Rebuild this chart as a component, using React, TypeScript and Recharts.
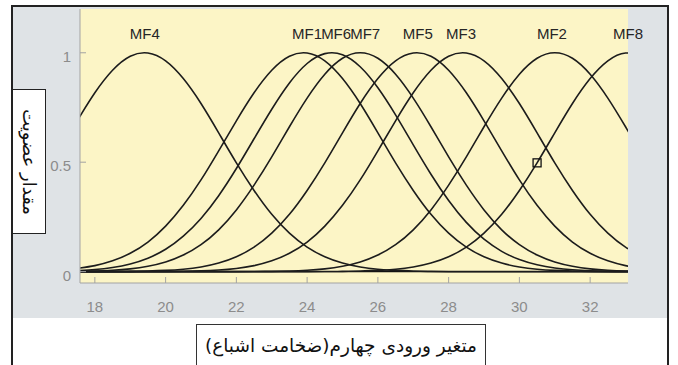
import React from 'react';
import {
  ComposedChart,
  Line,
  XAxis,
  YAxis,
  CartesianGrid,
  ReferenceLine,
  ReferenceDot,
  Scatter,
} from 'recharts';

// ---- data ----
const xGrid = [17.5, 18, 18.5, 19, 19.5, 20, 20.5, 21, 21.5, 22, 22.5, 23, 23.5, 24, 24.5, 25, 25.5, 26, 26.5, 27, 27.5, 28, 28.5, 29, 29.5, 30, 30.5, 31, 31.5, 32, 32.5, 33, 33.5];

const mf4 = [0.689, 0.817, 0.92, 0.984, 0.999, 0.963, 0.882, 0.768, 0.634, 0.497, 0.371, 0.262, 0.176, 0.112, 0.068, 0.039, 0.021, 0.011, 0.0055, 0.0026, 0.0011, 0, 0, 0, 0, 0, 0, 0, 0, 0, 0, 0, 0];
const mf1 = [0.0145, 0.0274, 0.0492, 0.0837, 0.135, 0.208, 0.303, 0.419, 0.552, 0.689, 0.817, 0.92, 0.984, 0.999, 0.963, 0.882, 0.768, 0.634, 0.497, 0.371, 0.262, 0.176, 0.112, 0.068, 0.039, 0.021, 0.011, 0.0055, 0.0026, 0.0011, 0, 0, 0];
const mf6 = [0.0047, 0.0097, 0.0189, 0.0349, 0.0612, 0.102, 0.162, 0.243, 0.347, 0.471, 0.607, 0.742, 0.862, 0.951, 0.996, 0.991, 0.936, 0.84, 0.716, 0.579, 0.445, 0.325, 0.225, 0.148, 0.0926, 0.0549, 0.031, 0.0166, 0.0084, 0.0041, 0.0019, 0.0008, 0.0003];
const mf7 = [0.0013, 0.003, 0.0063, 0.0127, 0.0243, 0.0439, 0.0756, 0.123, 0.191, 0.282, 0.395, 0.524, 0.662, 0.793, 0.902, 0.975, 1, 0.975, 0.902, 0.793, 0.662, 0.524, 0.395, 0.282, 0.191, 0.123, 0.0756, 0.0439, 0.0243, 0.0127, 0.0063, 0.003, 0.0013];
const mf5 = [0, 0.0002, 0.0005, 0.0011, 0.0026, 0.0055, 0.011, 0.021, 0.039, 0.068, 0.112, 0.176, 0.262, 0.371, 0.497, 0.634, 0.768, 0.882, 0.963, 0.999, 0.984, 0.92, 0.817, 0.689, 0.552, 0.419, 0.303, 0.208, 0.135, 0.0837, 0.0492, 0.0274, 0.0145];
const mf3 = [0, 0, 0, 0.0001, 0.0003, 0.0007, 0.0016, 0.0035, 0.0073, 0.0145, 0.0274, 0.0492, 0.0837, 0.135, 0.208, 0.303, 0.419, 0.552, 0.689, 0.817, 0.92, 0.984, 0.999, 0.963, 0.882, 0.768, 0.634, 0.497, 0.371, 0.262, 0.176, 0.112, 0.068];
const mf2 = [0, 0, 0, 0, 0, 0, 0, 0, 0, 0.0002, 0.0006, 0.0013, 0.003, 0.0063, 0.0127, 0.0243, 0.0439, 0.0756, 0.123, 0.191, 0.282, 0.395, 0.524, 0.662, 0.793, 0.902, 0.975, 1, 0.975, 0.902, 0.793, 0.662, 0.524];
const mf8 = [0, 0, 0, 0, 0, 0, 0, 0, 0, 0, 0, 0, 0, 0.0002, 0.0005, 0.0011, 0.0026, 0.0055, 0.011, 0.021, 0.039, 0.068, 0.112, 0.176, 0.262, 0.371, 0.497, 0.634, 0.768, 0.882, 0.963, 0.999, 0.984];

const seriesNames = ['MF4', 'MF1', 'MF6', 'MF7', 'MF5', 'MF3', 'MF2', 'MF8'];
const seriesValues = [mf4, mf1, mf6, mf7, mf5, mf3, mf2, mf8];

const labelNames = ['MF4', 'MF1', 'MF6', 'MF7', 'MF5', 'MF3', 'MF2', 'MF8'];
const labelX = [19.41, 24.0, 24.82, 25.64, 27.13, 28.35, 30.92, 33.07];

const xTicks = [18, 20, 22, 24, 26, 28, 30, 32];
const yTicks = [0, 0.5, 1];
const markerPoints = [{ x: 30.5, y: 0.497 }];

const xTitle = 'متغیر ورودی چهارم(ضخامت اشباع)';
const yTitle = 'مقدار عضویت';

const rows = xGrid.map((x, i) => {
  const r: Record<string, number> = { x };
  seriesNames.forEach((n, k) => {
    r[n] = seriesValues[k][i];
  });
  return r;
});

// ---- styles ----
const W = 678;
const H = 365;
const GRAY = '#dfe3e6';
const YELLOW = '#fcf5c6';
const AXIS = '#a3a3a3';
const TICKTXT = '#8c8c8c';
const LINE = '#1c1c1c';
const SANS = '"Liberation Sans", Arial, sans-serif';
const FA = '"DejaVu Sans", sans-serif';

const XTick = (p: any) => (
  <text x={p.x} y={p.y} textAnchor="middle" dominantBaseline="central" fill={TICKTXT} fontSize={15} fontFamily={SANS}>
    {p.payload.value}
  </text>
);
const YTick = (p: any) => (
  <text x={p.x} y={p.y + 3.5} textAnchor="end" dominantBaseline="central" fill={TICKTXT} fontSize={15} fontFamily={SANS}>
    {p.payload.value}
  </text>
);

const Square = (p: any) => (
  <rect x={p.cx - 4} y={p.cy - 4} width={8} height={8} fill="none" stroke="#111" strokeWidth={1.3} />
);

export default function App() {
  return (
    <div style={{ position: 'absolute', left: 0, top: 0, width: W, height: H, background: '#fff', overflow: 'hidden' }}>
      <div style={{ position: 'absolute', left: 13, top: 7, width: 654, height: 311, background: GRAY }} />
      <div style={{ position: 'absolute', left: 11, top: 5, width: 658, height: 2, background: '#222' }} />
      <div style={{ position: 'absolute', left: 11, top: 5, width: 2, height: 360, background: '#222' }} />
      <div style={{ position: 'absolute', left: 667, top: 5, width: 2, height: 360, background: '#222' }} />
      <div style={{ position: 'absolute', left: 0, top: 0 }}>
        <ComposedChart width={W} height={H} data={rows} margin={{ top: 9, right: 50, bottom: 52, left: 20 }}>
          <CartesianGrid xAxisId="b" yAxisId="l" horizontal={false} vertical={false} fill={YELLOW} stroke="none" />
          <XAxis
            xAxisId="b"
            dataKey="x"
            type="number"
            domain={[17.58, 33.07]}
            allowDataOverflow
            ticks={xTicks}
            height={30}
            stroke={AXIS}
            tickSize={-6}
            tickMargin={29}
            tick={XTick}
            interval={0}
          />
          <XAxis
            xAxisId="t"
            dataKey="x"
            type="number"
            orientation="top"
            domain={[17.58, 33.07]}
            allowDataOverflow
            ticks={xTicks}
            height={0}
            stroke={AXIS}
            tickSize={-6}
            tick={false}
            interval={0}
          />
          <YAxis
            yAxisId="l"
            type="number"
            domain={[-0.052, 1.2]}
            allowDataOverflow
            ticks={yTicks}
            width={60}
            stroke={AXIS}
            tickSize={-6}
            tickMargin={15}
            tick={YTick}
            interval={0}
          />
          <YAxis
            yAxisId="r"
            orientation="right"
            type="number"
            domain={[-0.052, 1.2]}
            allowDataOverflow
            ticks={yTicks}
            width={0}
            stroke={AXIS}
            tickSize={-6}
            tick={false}
            interval={0}
          />
          <ReferenceLine xAxisId="b" yAxisId="l" y={0} stroke="#111" strokeWidth={1.4} />
          {seriesNames.map((n) => (
            <Line
              key={n}
              xAxisId="b"
              yAxisId="l"
              dataKey={n}
              type="natural"
              stroke={LINE}
              strokeWidth={1.6}
              dot={false}
              activeDot={false}
              isAnimationActive={false}
            />
          ))}
          <Scatter xAxisId="b" yAxisId="l" data={markerPoints} dataKey="y" shape={Square} isAnimationActive={false} />
          {labelNames.map((n, i) => (
            <ReferenceDot
              key={n}
              xAxisId="b"
              yAxisId="l"
              x={labelX[i]}
              y={1}
              r={0}
              fill="none"
              stroke="none"
              ifOverflow="visible"
              label={{ value: n, position: 'top', offset: 13.5, fill: '#262626', fontSize: 15, fontFamily: SANS }}
            />
          ))}
        </ComposedChart>
      </div>
      <div
        style={{
          position: 'absolute',
          left: 12,
          top: 89,
          width: 32,
          height: 143,
          background: '#fff',
          border: '1px solid #222',
        }}
      >
        <div
          style={{
            position: 'absolute',
            left: '50%',
            top: '50%',
            transform: 'translate(-50%, -50%) rotate(90deg)',
            whiteSpace: 'nowrap',
            fontFamily: FA,
            fontSize: 18,
            color: '#111',
            direction: 'rtl',
          }}
        >
          {yTitle}
        </div>
      </div>
      <div
        style={{
          position: 'absolute',
          left: 196,
          top: 324,
          width: 288,
          height: 60,
          background: '#fff',
          border: '1px solid #333',
        }}
      >
        <div
          style={{
            position: 'absolute',
            left: 0,
            width: 288,
            top: 10,
            textAlign: 'center',
            whiteSpace: 'nowrap',
            fontFamily: FA,
            fontSize: 18.5,
            color: '#111',
            direction: 'rtl',
          }}
        >
          {xTitle}
        </div>
      </div>
    </div>
  );
}
